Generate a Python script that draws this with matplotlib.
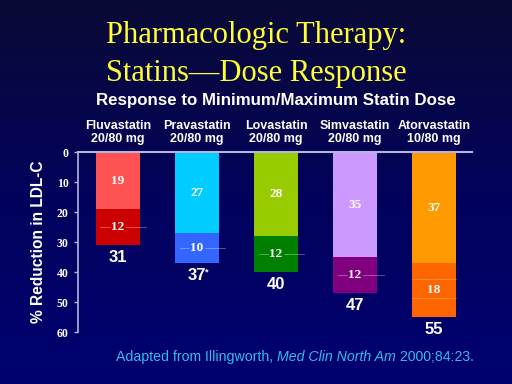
import numpy as np
import matplotlib
matplotlib.use("Agg")
import matplotlib.pyplot as plt
from matplotlib.colors import LinearSegmentedColormap

# ---- data ----
categories = ["Fluvastatin", "Pravastatin", "Lovastatin", "Simvastatin", "Atorvastatin"]
doses = ["20/80 mg", "20/80 mg", "20/80 mg", "20/80 mg", "10/80 mg"]
min_dose = [19, 27, 28, 35, 37]
increment = [12, 10, 12, 12, 18]
totals = [31, 37, 40, 47, 55]
total_marks = ["", "*", "", "", ""]
yticks = [0, 10, 20, 30, 40, 50, 60]

light_colors = ["#ff5353", "#00ccff", "#99cc00", "#cc99ff", "#ff9900"]
dark_colors = ["#cc0000", "#3366ff", "#008000", "#800080", "#ff6600"]

fig = plt.figure(figsize=(5.12, 3.84), dpi=100)

# background gradient
bg = fig.add_axes([0, 0, 1, 1], zorder=-10)
cmap = LinearSegmentedColormap.from_list("bg", ["#0a0a36", "#02025c", "#000070"])
grad = np.linspace(0, 1, 256).reshape(-1, 1)
bg.imshow(grad, aspect="auto", cmap=cmap, extent=[0, 1, 0, 1], origin="upper")
bg.axis("off")

# titles
fig.text(0.5, 1 - 35 / 384, "Pharmacologic Therapy:", color="#ffff33", fontsize=22,
         family="Liberation Serif", ha="center", va="center")
fig.text(0.5, 1 - 74 / 384, "Statins\u2014Dose Response", color="#ffff33", fontsize=22,
         family="Liberation Serif", ha="center", va="center")
fig.text(276 / 512, 1 - 101 / 384, "Response to Minimum/Maximum Statin Dose", color="white",
         fontsize=12.2, family="Liberation Sans", weight="bold", ha="center", va="center")

ax = fig.add_axes([0.152, 0.135, 0.770, 0.469])
ax.set_facecolor("none")
x = np.arange(len(categories))
w = 0.56
ax.bar(x, min_dose, width=w, color=light_colors, zorder=2)
ax.bar(x, increment, bottom=min_dose, width=w, color=dark_colors, zorder=2)

for i in range(len(categories)):
    ax.text(x[i], min_dose[i] / 2, str(min_dose[i]), color="white", fontsize=9.5,
            family="Liberation Serif", weight="bold", ha="center", va="center", zorder=4)
    ymid = min_dose[i] + increment[i] / 2
    ax.text(x[i], ymid, str(increment[i]), color="white", fontsize=9.5,
            family="Liberation Serif", weight="bold", ha="center", va="center", zorder=4)
    # faint artefact lines around the increment labels
    if i < 4:
        ax.plot([x[i] - 0.22, x[i] - 0.1], [ymid, ymid], color="white", lw=0.5, alpha=0.45, zorder=3)
        ax.plot([x[i] + 0.1, x[i] + 0.36], [ymid, ymid], color="white", lw=0.5, alpha=0.45, zorder=3)
    else:
        for yy in (min_dose[i] + 5.3, min_dose[i] + 11.6):
            ax.plot([x[i] - w / 2, x[i] + w / 2], [yy, yy], color="white", lw=0.5, alpha=0.35, zorder=3)
    ax.text(x[i], totals[i] + 4.2, str(totals[i]), color="white", fontsize=12,
            family="Liberation Sans", weight="bold", ha="center", va="center", zorder=4)
    if total_marks[i]:
        ax.text(x[i] + 0.13, totals[i] + 2.9, total_marks[i], color="white", fontsize=6.5,
                family="Liberation Sans", weight="bold", ha="center", va="center", zorder=4)
    ax.text(x[i], -6.5, categories[i] + "\n" + doses[i], color="white", fontsize=9,
            family="Liberation Sans", weight="bold", ha="center", va="center",
            linespacing=1.12, zorder=4)

ax.set_xlim(-0.506, 4.48)
ax.set_ylim(60, 0)
ax.set_yticks(yticks)
ax.set_yticklabels([str(t) for t in yticks], family="Liberation Serif", weight="bold",
                   fontsize=8.5, color="white")
ax.set_xticks([])
spine_col = "#b4b4dc"
for s in ["right", "bottom"]:
    ax.spines[s].set_visible(False)
ax.spines["left"].set_color(spine_col)
ax.spines["top"].set_color(spine_col)
ax.spines["left"].set_linewidth(1.2)
ax.spines["top"].set_linewidth(1.5)
ax.tick_params(axis="y", colors=spine_col, length=3, width=1, labelcolor="white")
ax.set_ylabel("% Reduction in LDL-C", color="white", fontsize=11.2,
              family="Liberation Sans", weight="bold", labelpad=8)

# footer with italic journal name
fig.canvas.draw()
r = fig.canvas.get_renderer()
parts = [("Adapted from Illingworth, ", "normal"), ("Med Clin North Am", "italic"),
         (" 2000;84:23.", "normal")]
xpos = 116 / 512
ypos = 1 - 357 / 384
for txt, style in parts:
    t = fig.text(xpos, ypos, txt, color="#33bbee", fontsize=10.2, family="Liberation Sans",
                 style=style, ha="left", va="center")
    bb = t.get_window_extent(renderer=r)
    xpos += bb.width / fig.bbox.width

fig.savefig("out.png", dpi=100)
